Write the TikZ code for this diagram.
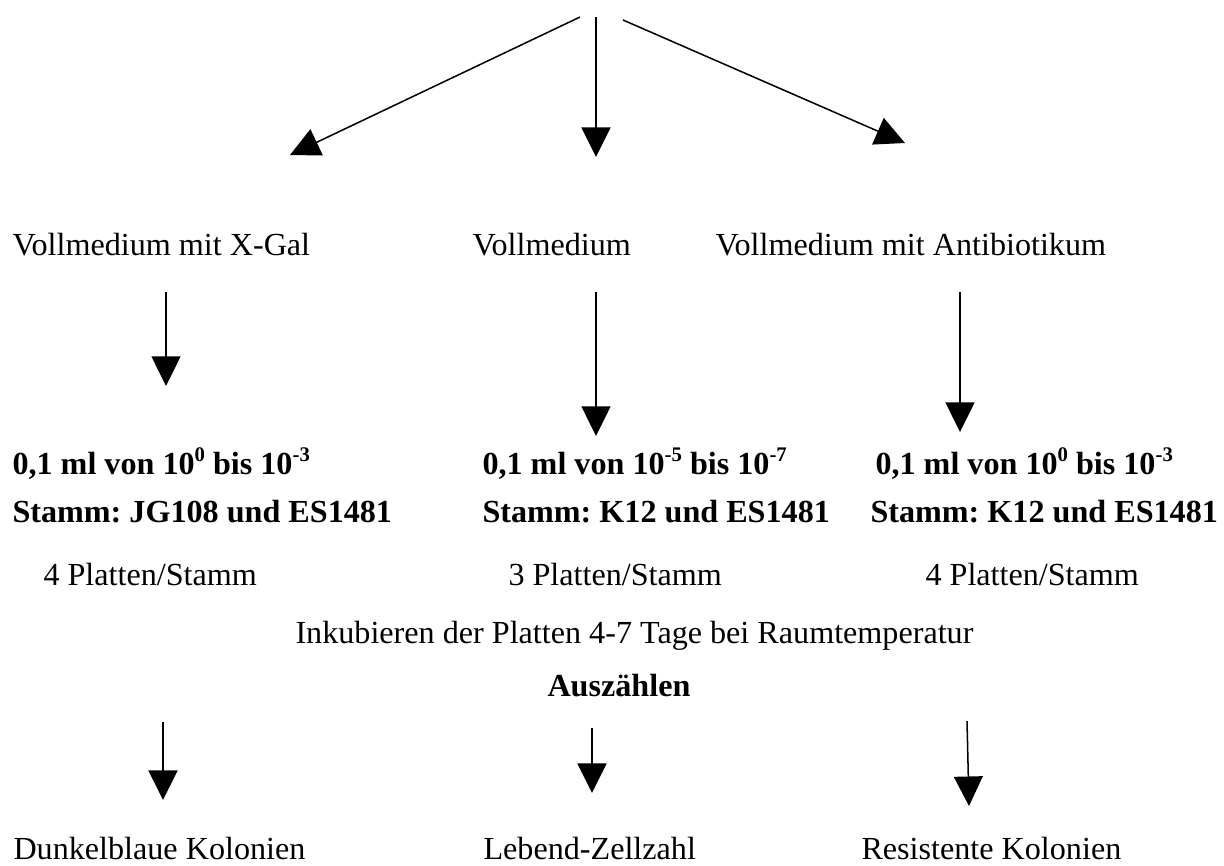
\documentclass[tikz,border=0pt]{standalone}
\usepackage{fontspec}
\setmainfont{Liberation Serif}
\usetikzlibrary{arrows.meta}

\newcommand{\hoch}[1]{\raisebox{0.85ex}{\fontsize{8.2}{9}\selectfont #1}}

\tikzset{
  txt/.style={anchor=base west, inner sep=0pt, font=\fontsize{12.7}{15}\selectfont\frenchspacing},
  bld/.style={txt, font=\fontsize{12.7}{15}\selectfont\frenchspacing\bfseries},
  arr/.style={-{Triangle[length=0.41cm,width=0.4cm]}, line width=0.6pt},
  thickarr/.style={arr, line width=1pt}
}

\begin{document}
\begin{tikzpicture}[x=0.013889cm, y=-0.013889cm]
  \useasboundingbox (0,0) rectangle (1224,865);

  % top fan
  \coordinate (topl) at (580,17);
  \coordinate (topm) at (596,17);
  \coordinate (topr) at (623,20);
  \coordinate (tipl) at (290,155);
  \coordinate (tipm) at (596,157);
  \coordinate (tipr) at (905,143);
  \draw[arr] (topl) -- (tipl);
  \draw[thickarr] (topm) -- (tipm);
  \draw[arr] (topr) -- (tipr);

  % media
  \node[txt] (xgal) at (12,255) {Vollmedium mit X-Gal};
  \node[txt] (voll) at (472,255) {Vollmedium};
  \node[txt] (anti) at (715,255) {Vollmedium mit Antibiotikum};

  \coordinate (al1) at (166,292);  \coordinate (al2) at (166,386);
  \coordinate (am1) at (596,292);  \coordinate (am2) at (596,436);
  \coordinate (ar1) at (960,292);  \coordinate (ar2) at (960,432);
  \draw[arr] (al1) -- (al2);
  \draw[arr] (am1) -- (am2);
  \draw[arr] (ar1) -- (ar2);

  % dilutions
  \node[bld] (dill) at (12,474) {0,1 ml von 10\hoch{0} bis 10\hoch{-3}};
  \node[bld] (dilm) at (482,474) {0,1 ml von 10\hoch{-5} bis 10\hoch{-7}};
  \node[bld] (dilr) at (875,474) {0,1 ml von 10\hoch{0} bis 10\hoch{-3}};
  \node[bld] (staml) at (12,522) {Stamm: JG108 und ES1481};
  \node[bld] (stamm) at (482,522) {Stamm: K12 und ES1481};
  \node[bld] (stamr) at (870,522) {Stamm: K12 und ES1481};
  \node[txt] (platl) at (43,585) {4 Platten/Stamm};
  \node[txt] (platm) at (508,585) {3 Platten/Stamm};
  \node[txt] (platr) at (925,585) {4 Platten/Stamm};

  \node[txt] (inku) at (295,643) {Inkubieren der Platten 4-7 Tage bei Raumtemperatur};
  \node[bld] (zaehl) at (547,696) {Auszählen};

  \coordinate (bl1) at (163,722);  \coordinate (bl2) at (163,800);
  \coordinate (bm1) at (592,728);  \coordinate (bm2) at (592,793);
  \coordinate (br1) at (967,721);  \coordinate (br2) at (969,806);
  \draw[thickarr] (bl1) -- (bl2);
  \draw[thickarr] (bm1) -- (bm2);
  \draw[arr] (br1) -- (br2);

  % results
  \node[txt] (blau) at (13,859) {Dunkelblaue Kolonien};
  \node[txt] (leb) at (483,859) {Lebend-Zellzahl};
  \node[txt] (res) at (861,859) {Resistente Kolonien};
\end{tikzpicture}
\end{document}
